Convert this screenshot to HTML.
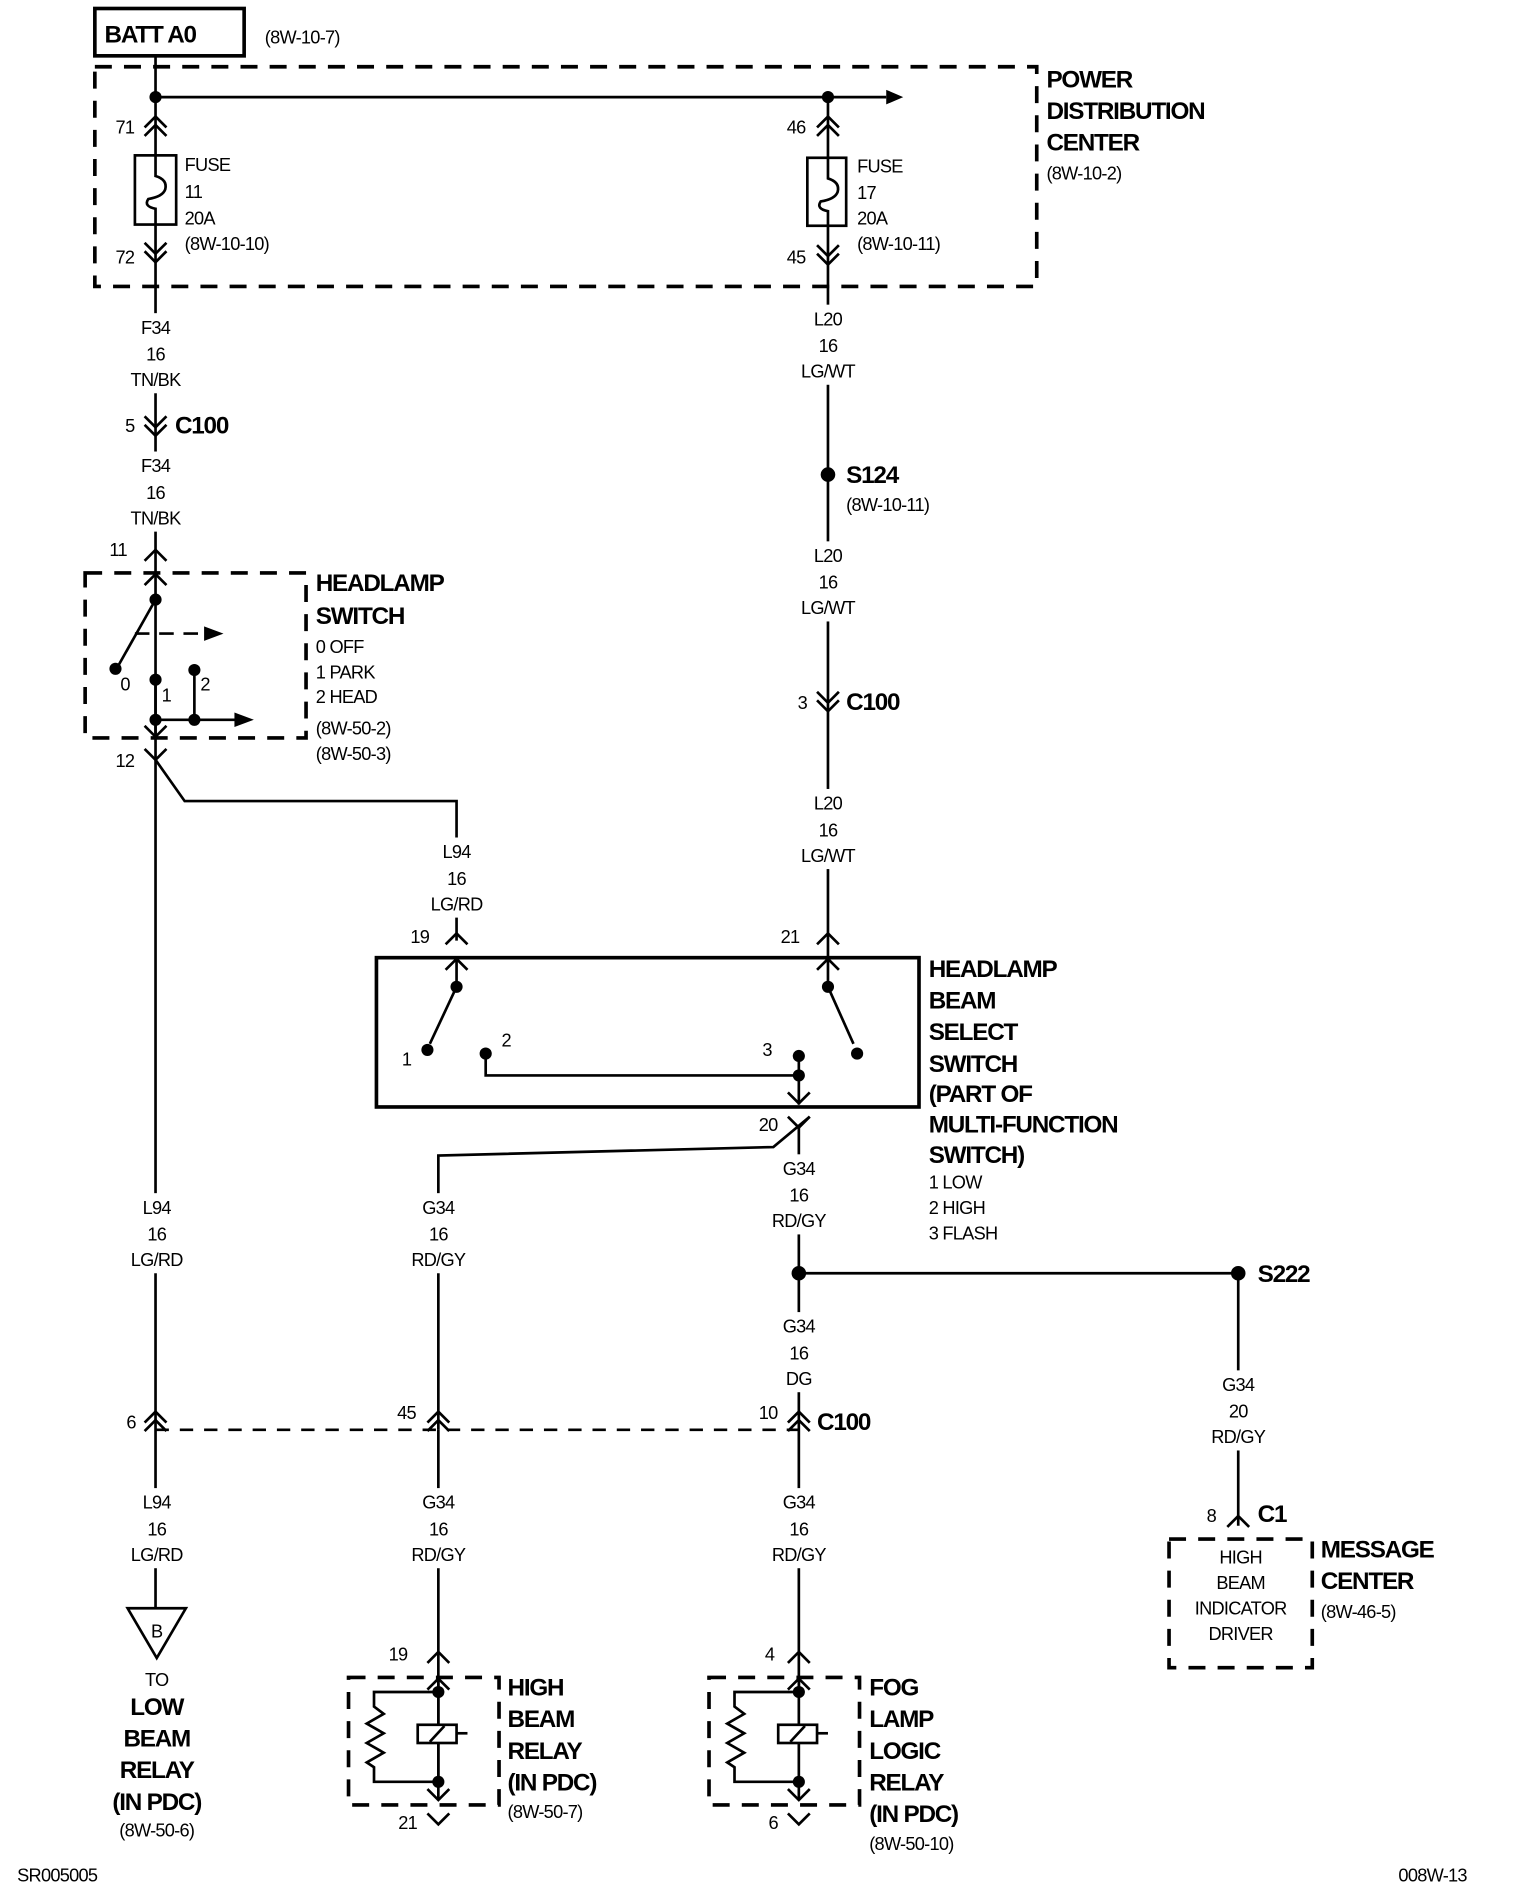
<!DOCTYPE html>
<html><head><meta charset="utf-8"><style>
html,body{margin:0;padding:0;background:#fff}
svg{display:block}
text{font-family:"Liberation Sans",Arial,sans-serif;fill:#000}
.n{font-size:15px;letter-spacing:-0.6px}
.b{font-size:20px;font-weight:bold;letter-spacing:-1px}
.m{text-anchor:middle}
</style></head><body>
<svg width="1520" height="1902" viewBox="0 0 1252 1567" xmlns="http://www.w3.org/2000/svg">
<g fill="none" stroke="#000" stroke-width="2.2">
<rect x="78" y="7" width="123" height="39" stroke-width="3"/>
<rect x="78" y="55" width="776" height="181" stroke-width="3" stroke-dasharray="14 10"/>
<line x1="128" y1="46" x2="128" y2="1325"/>
<line x1="128" y1="80" x2="730" y2="80"/>
<line x1="682" y1="80" x2="682" y2="813"/>
<path d="M119 105 L128 96 L137 105 M119 112 L128 103 L137 112"/>
<path d="M119 200 L128 209 L137 200 M119 207 L128 216 L137 207"/>
<path d="M673 105 L682 96 L691 105 M673 112 L682 103 L691 112"/>
<path d="M673 202 L682 211 L691 202 M673 209 L682 218 L691 209"/>
<rect x="111" y="128" width="34" height="57" fill="#fff"/>
<path d="M128 128 V145 Q138 148 136 156 Q134 162 122 164 Q118 170 128 172 V185"/>
<rect x="665" y="130" width="32" height="56" fill="#fff"/>
<path d="M682 130 V147 Q692 150 690 158 Q688 164 676 166 Q672 172 682 174 V186"/>
<path d="M119 343 L128 352 L137 343 M119 350 L128 359 L137 350"/>
<path d="M673 570 L682 579 L691 570 M673 577 L682 586 L691 577"/>
<path d="M119 462 L128 453 L137 462"/>
<rect x="70" y="472" width="182" height="136" stroke-width="3" stroke-dasharray="14 10"/>
<path d="M119 482 L128 473 L137 482"/>
<line x1="128" y1="494" x2="97" y2="549"/>
<line x1="111" y1="522" x2="170" y2="522" stroke-dasharray="12 8"/>
<line x1="128" y1="560" x2="128" y2="605"/>
<line x1="160" y1="552" x2="160" y2="593"/>
<line x1="128" y1="593" x2="195" y2="593"/>
<path d="M119 598 L128 607 L137 598"/>
<path d="M119 617 L128 626 L137 617"/>
<path d="M128 626 L152 660 L376 660 L376 775"/>
<path d="M367 778 L376 769 L385 778"/>
<path d="M673 778 L682 769 L691 778"/>
<rect x="310" y="789" width="447" height="123" stroke-width="3"/>
<path d="M367 799 L376 790 L385 799 M673 799 L682 790 L691 799"/>
<line x1="376" y1="790" x2="376" y2="813"/>
<line x1="376" y1="813" x2="354" y2="860"/>
<line x1="682" y1="813" x2="703" y2="860"/>
<path d="M400 868 V886 H658"/>
<line x1="658" y1="868" x2="658" y2="910"/>
<path d="M649 900 L658 909 L667 900"/>
<path d="M649 920 L658 929 L667 920"/>
<path d="M667 920 L637 945 L361 952 L361 1178"/>
<line x1="658" y1="929" x2="658" y2="1390"/>
<line x1="658" y1="1049" x2="1020" y2="1049"/>
<line x1="1020" y1="1049" x2="1020" y2="1257"/>
<path d="M1011 1258 L1020 1249 L1029 1258"/>
<rect x="963" y="1268" width="118" height="106" stroke-width="3" stroke-dasharray="14 10"/>
<line x1="128" y1="1178" x2="658" y2="1178" stroke-dasharray="11 9"/>
<path d="M119 1172 L128 1163 L137 1172 M119 1179 L128 1170 L137 1179"/>
<path d="M352 1172 L361 1163 L370 1172 M352 1179 L361 1170 L370 1179"/>
<path d="M649 1172 L658 1163 L667 1172 M649 1179 L658 1170 L667 1179"/>
<line x1="361" y1="1178" x2="361" y2="1470"/>
<path d="M105 1325 L153 1325 L129 1366 Z"/>
<path d="M352 1370 L361 1361 L370 1370 M649 1370 L658 1361 L667 1370"/>
<rect x="287" y="1382" width="124" height="105" stroke-width="3" stroke-dasharray="14 10"/>
<rect x="584" y="1382" width="124" height="105" stroke-width="3" stroke-dasharray="14 10"/>
<path d="M352 1392 L361 1383 L370 1392 M649 1392 L658 1383 L667 1392"/>
<path d="M361 1383 V1482 M658 1383 V1482"/>
<path d="M352 1474 L361 1483 L370 1474 M649 1474 L658 1483 L667 1474"/>
<path d="M352 1494 L361 1503 L370 1494 M649 1494 L658 1503 L667 1494"/>
<path d="M361 1394 H308 V1406 L316 1412 L302 1420 L316 1428 L302 1436 L316 1444 L302 1452 L308 1456 V1468 H361"/>
<path d="M658 1394 H605 V1406 L613 1412 L599 1420 L613 1428 L599 1436 L613 1444 L599 1452 L605 1456 V1468 H658"/>
<rect x="344" y="1421" width="32" height="15" fill="#fff"/>
<line x1="354" y1="1435" x2="366" y2="1422"/>
<line x1="376" y1="1428" x2="385" y2="1428"/>
<rect x="641" y="1421" width="32" height="15" fill="#fff"/>
<line x1="651" y1="1435" x2="663" y2="1422"/>
<line x1="673" y1="1428" x2="682" y2="1428"/>
</g>
<!-- white gaps behind wire labels -->
<g fill="#fff">
<rect x="100" y="258" width="56" height="66"/>
<rect x="100" y="372" width="56" height="66"/>
<rect x="654" y="251" width="56" height="66"/>
<rect x="654" y="446" width="56" height="66"/>
<rect x="654" y="650" width="56" height="66"/>
<rect x="348" y="690" width="56" height="66"/>
<rect x="100" y="983" width="56" height="66"/>
<rect x="333" y="983" width="56" height="66"/>
<rect x="630" y="951" width="56" height="66"/>
<rect x="630" y="1081" width="56" height="66"/>
<rect x="992" y="1129" width="56" height="66"/>
<rect x="100" y="1226" width="56" height="66"/>
<rect x="333" y="1226" width="56" height="66"/>
<rect x="630" y="1226" width="56" height="66"/>
</g>
<g fill="#000">
<path d="M730 74 L744 80 L730 86 Z"/>
<path d="M168 516 L184 522 L168 528 Z"/>
<path d="M193 587 L209 593 L193 599 Z"/>
<circle cx="128" cy="80" r="5"/><circle cx="682" cy="80" r="5"/>
<circle cx="128" cy="494" r="5"/><circle cx="95" cy="551" r="5"/>
<circle cx="128" cy="560" r="5"/><circle cx="160" cy="552" r="5"/>
<circle cx="128" cy="593" r="5"/><circle cx="160" cy="593" r="5"/>
<circle cx="682" cy="391" r="6"/>
<circle cx="376" cy="813" r="5"/><circle cx="352" cy="865" r="5"/>
<circle cx="400" cy="868" r="5"/><circle cx="658" cy="870" r="5"/>
<circle cx="658" cy="886" r="5"/><circle cx="682" cy="813" r="5"/><circle cx="706" cy="868" r="5"/>
<circle cx="658" cy="1049" r="6"/><circle cx="1020" cy="1049" r="6"/>
<circle cx="361" cy="1394" r="5"/><circle cx="361" cy="1468" r="5"/>
<circle cx="658" cy="1394" r="5"/><circle cx="658" cy="1468" r="5"/>
</g>
<text class="b" x="86" y="35">BATT A0</text>
<text class="n" x="218" y="36">(8W-10-7)</text>
<text class="b" x="862" y="72">POWER</text>
<text class="b" x="862" y="98">DISTRIBUTION</text>
<text class="b" x="862" y="124">CENTER</text>
<text class="n" x="862" y="148">(8W-10-2)</text>
<text class="n" x="95" y="110">71</text><text class="n" x="95" y="217">72</text>
<text class="n" x="648" y="110">46</text><text class="n" x="648" y="217">45</text>
<text class="n" x="152" y="141">FUSE</text><text class="n" x="152" y="163">11</text><text class="n" x="152" y="185">20A</text><text class="n" x="152" y="206">(8W-10-10)</text>
<text class="n" x="706" y="142">FUSE</text><text class="n" x="706" y="164">17</text><text class="n" x="706" y="185">20A</text><text class="n" x="706" y="206">(8W-10-11)</text>
<g class="n m">
<text x="128" y="275">F34</text><text x="128" y="297">16</text><text x="128" y="318">TN/BK</text>
<text x="128" y="389">F34</text><text x="128" y="411">16</text><text x="128" y="432">TN/BK</text>
<text x="682" y="268">L20</text><text x="682" y="290">16</text><text x="682" y="311">LG/WT</text>
<text x="682" y="463">L20</text><text x="682" y="485">16</text><text x="682" y="506">LG/WT</text>
<text x="682" y="667">L20</text><text x="682" y="689">16</text><text x="682" y="710">LG/WT</text>
<text x="376" y="707">L94</text><text x="376" y="729">16</text><text x="376" y="750">LG/RD</text>
<text x="129" y="1000">L94</text><text x="129" y="1022">16</text><text x="129" y="1043">LG/RD</text>
<text x="361" y="1000">G34</text><text x="361" y="1022">16</text><text x="361" y="1043">RD/GY</text>
<text x="658" y="968">G34</text><text x="658" y="990">16</text><text x="658" y="1011">RD/GY</text>
<text x="658" y="1098">G34</text><text x="658" y="1120">16</text><text x="658" y="1141">DG</text>
<text x="1020" y="1146">G34</text><text x="1020" y="1168">20</text><text x="1020" y="1189">RD/GY</text>
<text x="129" y="1243">L94</text><text x="129" y="1265">16</text><text x="129" y="1286">LG/RD</text>
<text x="361" y="1243">G34</text><text x="361" y="1265">16</text><text x="361" y="1286">RD/GY</text>
<text x="658" y="1243">G34</text><text x="658" y="1265">16</text><text x="658" y="1286">RD/GY</text>
<text x="129" y="1349">B</text>
<text x="129" y="1389">TO</text>
<text x="129" y="1513">(8W-50-6)</text>
<text x="1022" y="1288">HIGH</text><text x="1022" y="1309">BEAM</text><text x="1022" y="1330">INDICATOR</text><text x="1022" y="1351">DRIVER</text>
</g>
<g class="b m"><text x="129" y="1413">LOW</text><text x="129" y="1439">BEAM</text><text x="129" y="1465">RELAY</text><text x="129" y="1491">(IN PDC)</text></g>
<text class="n" x="103" y="356">5</text><text class="b" x="144" y="357">C100</text>
<text class="n" x="90" y="458">11</text>
<text class="b" x="260" y="487">HEADLAMP</text><text class="b" x="260" y="514">SWITCH</text>
<text class="n" x="260" y="538">0 OFF</text><text class="n" x="260" y="559">1 PARK</text><text class="n" x="260" y="579">2 HEAD</text>
<text class="n" x="260" y="605">(8W-50-2)</text><text class="n" x="260" y="626">(8W-50-3)</text>
<text class="n" x="99" y="569">0</text><text class="n" x="133" y="578">1</text><text class="n" x="165" y="569">2</text>
<text class="n" x="95" y="632">12</text>
<text class="b" x="697" y="398">S124</text><text class="n" x="697" y="421">(8W-10-11)</text>
<text class="n" x="657" y="584">3</text><text class="b" x="697" y="585">C100</text>
<text class="n" x="338" y="777">19</text><text class="n" x="643" y="777">21</text>
<text class="n" x="331" y="878">1</text><text class="n" x="413" y="862">2</text><text class="n" x="628" y="870">3</text>
<text class="n" x="625" y="932">20</text>
<text class="b" x="765" y="805">HEADLAMP</text><text class="b" x="765" y="831">BEAM</text><text class="b" x="765" y="857">SELECT</text><text class="b" x="765" y="883">SWITCH</text><text class="b" x="765" y="908">(PART OF</text><text class="b" x="765" y="933">MULTI-FUNCTION</text><text class="b" x="765" y="958">SWITCH)</text>
<text class="n" x="765" y="979">1 LOW</text><text class="n" x="765" y="1000">2 HIGH</text><text class="n" x="765" y="1021">3 FLASH</text>
<text class="b" x="1036" y="1056">S222</text>
<text class="n" x="104" y="1177">6</text><text class="n" x="327" y="1169">45</text><text class="n" x="625" y="1169">10</text>
<text class="b" x="673" y="1178">C100</text>
<text class="n" x="994" y="1254">8</text><text class="b" x="1036" y="1254">C1</text>
<text class="b" x="1088" y="1283">MESSAGE</text><text class="b" x="1088" y="1309">CENTER</text><text class="n" x="1088" y="1333">(8W-46-5)</text>
<text class="n" x="320" y="1368">19</text><text class="n" x="630" y="1368">4</text>
<text class="n" x="328" y="1507">21</text><text class="n" x="633" y="1507">6</text>
<text class="b" x="418" y="1397">HIGH</text><text class="b" x="418" y="1423">BEAM</text><text class="b" x="418" y="1449">RELAY</text><text class="b" x="418" y="1475">(IN PDC)</text><text class="n" x="418" y="1498">(8W-50-7)</text>
<text class="b" x="716" y="1397">FOG</text><text class="b" x="716" y="1423">LAMP</text><text class="b" x="716" y="1449">LOGIC</text><text class="b" x="716" y="1475">RELAY</text><text class="b" x="716" y="1501">(IN PDC)</text><text class="n" x="716" y="1524">(8W-50-10)</text>
<text class="n" x="14" y="1550">SR005005</text>
<text class="n" x="1152" y="1550">008W-13</text>
</svg>
</body></html>
